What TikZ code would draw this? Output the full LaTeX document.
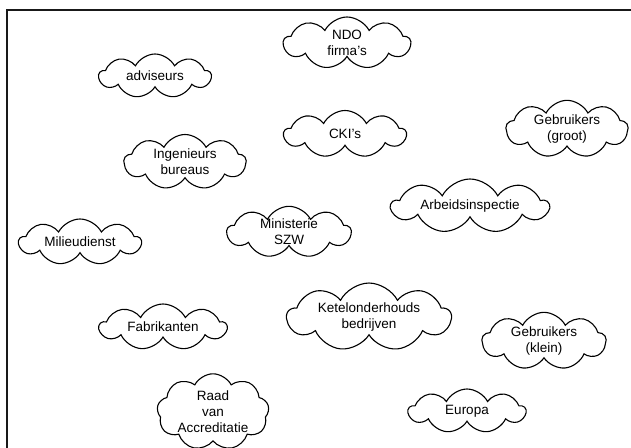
\documentclass[tikz,border=0pt]{standalone}
\usepackage{fontspec}
\setmainfont{Liberation Sans}
\usetikzlibrary{shapes.symbols}
\begin{document}
\begin{tikzpicture}[x=1pt,y=-1pt,
  puff/.style={cloud, cloud puffs=9, cloud puff arc=125, cloud ignores aspect,
    draw=black, line width=1.1pt, inner sep=0pt, align=center,
    font=\fontsize{13.5}{16}\selectfont},
  frameline/.style={line width=1.6pt, draw=black!90}]
\useasboundingbox (0,0) rectangle (631,447);
\clip (0,0) rectangle (631,447);
% open frame along the top and left edges
\coordinate (fbl) at (7,460);
\coordinate (ftl) at (7,10);
\coordinate (ftr) at (645,10);
\draw[frameline] (fbl) -- (ftl) -- (ftr);
% organisations
\node[puff, minimum width=127, minimum height=52] (ndo) at (347,43) {NDO\\firma's};
\node[puff, minimum width=112, minimum height=44] (adv) at (155,76) {adviseurs};
\node[puff, minimum width=122, minimum height=54] (gg) at (567,129) {Gebruikers\\(groot)};
\node[puff, minimum width=122, minimum height=47] (cki) at (345,134) {CKI's};
\node[puff, minimum width=122, minimum height=55] (ing) at (185,162) {Ingenieurs\\bureaus};
\node[puff, minimum width=157, minimum height=54] (arb) at (470,206) {Arbeidsinspectie};
\node[puff, minimum width=124, minimum height=50] (szw) at (289,232) {Ministerie\\SZW};
\node[puff, minimum width=122, minimum height=46] (mil) at (80,242) {Milieudienst};
\node[puff, minimum width=164, minimum height=67] (ket) at (369,317) {Ketelonderhouds\\bedrijven};
\node[puff, minimum width=127, minimum height=46] (fab) at (163,327) {Fabrikanten};
\node[puff, minimum width=124, minimum height=52] (gk) at (544,341) {Gebruikers\\(klein)};
\node[puff, minimum width=112, minimum height=76] (rva) at (213,412) {Raad\\van\\Accreditatie};
\node[puff, minimum width=117, minimum height=44] (eur) at (467,411) {Europa};
\end{tikzpicture}
\end{document}
